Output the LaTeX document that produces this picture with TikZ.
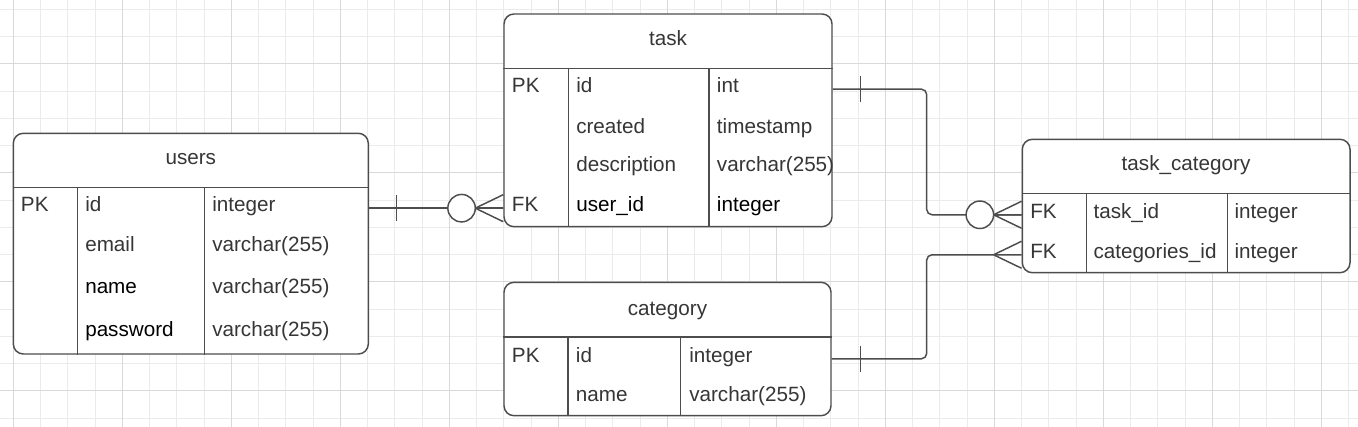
\documentclass[tikz,border=0pt]{standalone}
\usepackage{fontspec}
\setmainfont{Liberation Sans}
\usetikzlibrary{fit,calc}
\definecolor{linec}{HTML}{4D4D4D}
\definecolor{txt}{HTML}{363636}
\definecolor{gridminor}{HTML}{EBEBEB}
\definecolor{gridmajor}{HTML}{D9D9D9}
\newcommand\erfont{\fontsize{15.5pt}{18pt}\selectfont}
\tikzset{
  tbl/.style={draw=linec, line width=1.1pt, rounded corners=7.5pt, inner sep=0pt, fill=white},
  tblline/.style={draw=linec, line width=1.1pt},
  ttl/.style={anchor=base, text=txt, font=\erfont, inner sep=0pt},
  cell/.style={anchor=base west, text=txt, font=\erfont, inner sep=0pt},
  cellk/.style={cell, text=black},
  conn/.style={draw=linec, line width=1.1pt},
  gminor/.style={draw=gridminor, line width=0.75pt},
  gmajor/.style={draw=gridmajor, line width=0.9pt},
}
\begin{document}
\begin{tikzpicture}[x=0.75pt, y=-0.75pt]
\useasboundingbox (0,0) rectangle (1358,427);
\fill[white] (0,0) rectangle (1358,427);
% grid
\begin{scope}
\clip (0,0) rectangle (1358,427);
\foreach \k in {0,...,50} {
  \pgfmathsetmacro\xx{13.3+27.25*\k}
  \draw[gminor] (\xx,0) -- (\xx,427);
}
\foreach \k in {0,...,15} {
  \pgfmathsetmacro\yy{9.3+27.25*\k}
  \draw[gminor] (0,\yy) -- (1358,\yy);
}
\foreach \k in {0,...,12} {
  \pgfmathsetmacro\xx{13.3+109*\k}
  \draw[gmajor] (\xx,0) -- (\xx,427);
}
\foreach \k in {0,...,3} {
  \pgfmathsetmacro\yy{63.7+109*\k}
  \draw[gmajor] (0,\yy) -- (1358,\yy);
}
\end{scope}

% ---------- users ----------
\node[tbl, fit={(13.3,133.3)(368.3,354)}] (users) {};
\draw[tblline] (users.west |- 0,187.3) -- (users.east |- 0,187.3);
\draw[tblline] (77.3,187.3) -- (77.3,0 |- users.south);
\draw[tblline] (204.7,187.3) -- (204.7,0 |- users.south);
\node[ttl] (users-title) at (190.8,165) {users};
\node[cell] (users-pk) at (20.7,211.7) {PK};
\node[cell] (users-id) at (85,211.7) {id};
\node[cell] (users-idt) at (212,211.7) {integer};
\node[cell] (users-email) at (85,251.7) {email};
\node[cell] (users-emailt) at (212,251.7) {varchar(255)};
\node[cellk] (users-name) at (85,293.3) {name};
\node[cell] (users-namet) at (212,293.3) {varchar(255)};
\node[cellk] (users-pw) at (85,336.7) {password};
\node[cell] (users-pwt) at (212,336.7) {varchar(255)};

% ---------- task ----------
\node[tbl, fit={(504,14)(832,226.7)}] (task) {};
\draw[tblline] (task.west |- 0,68.7) -- (task.east |- 0,68.7);
\draw[tblline] (568.3,68.7) -- (568.3,0 |- task.south);
\draw[tblline] (709,68.7) -- (709,0 |- task.south);
\node[ttl] (task-title) at (668,45.7) {task};
\node[cell] (task-pk) at (511.7,92.7) {PK};
\node[cell] (task-id) at (576,92.7) {id};
\node[cell] (task-idt) at (716.7,92.7) {int};
\node[cell] (task-cr) at (576,133.3) {created};
\node[cell] (task-crt) at (716.7,133.3) {timestamp};
\node[cell] (task-de) at (576,171.7) {description};
\node[cell] (task-det) at (716.7,171.7) {varchar(255)};
\node[cell] (task-fk) at (511.7,211.7) {FK};
\node[cellk] (task-uid) at (576,211.7) {user\_id};
\node[cellk] (task-uidt) at (716.7,211.7) {integer};

% ---------- task_category ----------
\node[tbl, fit={(1022.3,139.3)(1350,272.7)}] (tc) {};
\draw[tblline] (tc.west |- 0,193.3) -- (tc.east |- 0,193.3);
\draw[tblline] (1086.3,193.3) -- (1086.3,0 |- tc.south);
\draw[tblline] (1227.3,193.3) -- (1227.3,0 |- tc.south);
\node[ttl] (tc-title) at (1186,170.7) {task\_category};
\node[cell] (tc-fk1) at (1030,218.3) {FK};
\node[cell] (tc-tid) at (1093.3,218.3) {task\_id};
\node[cell] (tc-tidt) at (1234.3,218.3) {integer};
\node[cell] (tc-fk2) at (1030,258.3) {FK};
\node[cell] (tc-cid) at (1093.3,258.3) {categories\_id};
\node[cell] (tc-cidt) at (1234.3,258.3) {integer};

% ---------- category ----------
\node[tbl, fit={(504,282.3)(831,415.7)}] (cat) {};
\draw[tblline] (cat.west |- 0,337) -- (cat.east |- 0,337);
\draw[tblline] (568,337) -- (568,0 |- cat.south);
\draw[tblline] (680.7,337) -- (680.7,0 |- cat.south);
\node[ttl] (cat-title) at (667.5,315.7) {category};
\node[cell] (cat-pk) at (511.7,362.3) {PK};
\node[cell] (cat-id) at (575.7,362.3) {id};
\node[cell] (cat-idt) at (689,362.3) {integer};
\node[cell] (cat-name) at (575.7,401.7) {name};
\node[cell] (cat-namet) at (689,401.7) {varchar(255)};

% ---------- connectors ----------
\coordinate (U1) at (users.east |- users-pk.mid);
\coordinate (T1) at (task.west |- task-fk.mid);
\coordinate (T2) at (task.east |- task-pk.mid);
\coordinate (C1) at (tc.west |- tc-fk1.mid);
\coordinate (C2) at (tc.west |- tc-fk2.mid);
\coordinate (K1) at (cat.east |- cat-pk.mid);
\coordinate (bend) at (926.7,0);

% users -> task
\draw[conn] (U1) -- (T1);
\draw[conn] ($(U1)+(27.5,-13)$) -- ($(U1)+(27.5,13)$);
\draw[conn, fill=white] ($(T1)+(-41.7,0)$) circle[radius=10.3pt];
\draw[conn] ($(T1)+(-28,0)$) -- ($(T1)+(0,-13.5)$)
            ($(T1)+(-28,0)$) -- (T1)
            ($(T1)+(-28,0)$) -- ($(T1)+(0,13.5)$);

% task -> task_category
\draw[conn, rounded corners=4pt] (T2) -| (bend |- C1) -- (C1);
\draw[conn] ($(T2)+(28,-13)$) -- ($(T2)+(28,13)$);
\draw[conn, fill=white] ($(C1)+(-41.7,0)$) circle[radius=10.3pt];
\draw[conn] ($(C1)+(-28,0)$) -- ($(C1)+(0,-13.5)$)
            ($(C1)+(-28,0)$) -- (C1)
            ($(C1)+(-28,0)$) -- ($(C1)+(0,13.5)$);

% category -> task_category
\draw[conn, rounded corners=4pt] (K1) -| (bend |- C2) -- (C2);
\draw[conn] ($(K1)+(29,-13)$) -- ($(K1)+(29,13)$);
\draw[conn] ($(C2)+(-28,0)$) -- ($(C2)+(0,-13.5)$)
            ($(C2)+(-28,0)$) -- ($(C2)+(0,13.5)$);
\end{tikzpicture}
\end{document}
